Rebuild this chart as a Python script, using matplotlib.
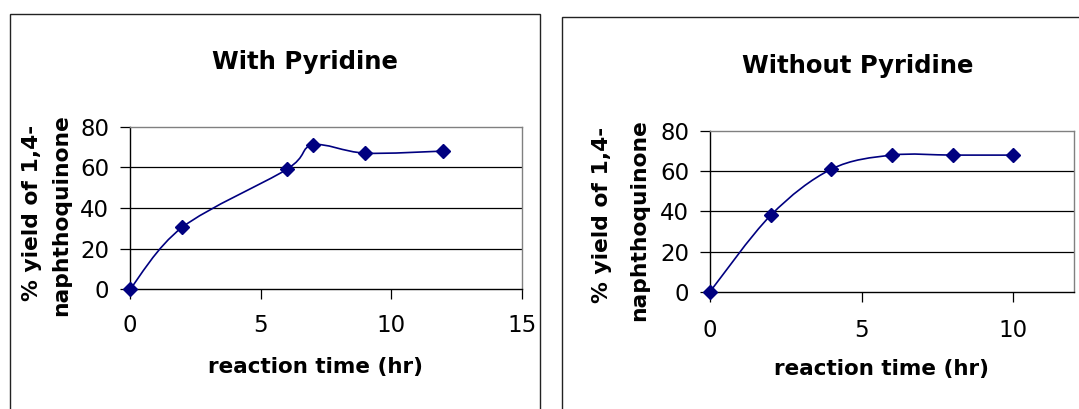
import matplotlib
matplotlib.use("Agg")
import matplotlib.pyplot as plt
from matplotlib.path import Path
from matplotlib.patches import PathPatch, Rectangle

# data
t_with = [0, 2, 6, 7, 9, 12]
y_with = [0, 30.5, 59, 71, 67, 68]
t_without = [0, 2, 4, 6, 8, 10]
y_without = [0, 38, 61, 68, 68, 68]
yticks = [0, 20, 40, 60, 80]

W, H = 1079, 409
NAVY = "#000080"


def px(x, y):
    # pixel position -> figure fraction
    return x / W, 1 - y / H


def smooth_path(xs, ys):
    # excel style smoothed line: catmull-rom as cubic beziers
    pts = list(zip(xs, ys))
    n = len(pts)
    verts = [pts[0]]
    codes = [Path.MOVETO]
    for i in range(n - 1):
        p0 = pts[i - 1] if i > 0 else pts[i]
        p1 = pts[i]
        p2 = pts[i + 1]
        p3 = pts[i + 2] if i + 2 < n else pts[i + 1]
        c1 = (p1[0] + (p2[0] - p0[0]) / 6, p1[1] + (p2[1] - p0[1]) / 6)
        c2 = (p2[0] - (p3[0] - p1[0]) / 6, p2[1] - (p3[1] - p1[1]) / 6)
        verts += [c1, c2, p2]
        codes += [Path.CURVE4] * 3
    return Path(verts, codes)


def setup(ax, xs, ys, xmax, xticks, xpad):
    ax.set_xlim(0, xmax)
    ax.set_ylim(0, 80)
    ax.set_xticks(xticks)
    ax.set_yticks(yticks)
    for y in yticks[1:-1]:
        ax.axhline(y, color="black", lw=0.9, zorder=1)
    ax.spines["top"].set_color("#808080")
    ax.spines["right"].set_color("#808080")
    for s in ["left", "bottom"]:
        ax.spines[s].set_color("black")
    for s in ax.spines.values():
        s.set_linewidth(1.0)
    ax.tick_params(axis="both", direction="out", length=7, width=0.9,
                   labelsize=16.5, colors="black")
    ax.tick_params(axis="y", pad=8)
    ax.tick_params(axis="x", pad=xpad)
    ax.add_patch(PathPatch(smooth_path(xs, ys), fill=False, edgecolor=NAVY,
                           lw=1.2, zorder=3))
    ax.plot(xs, ys, ls="none", marker="D", ms=6.8, color=NAVY,
            zorder=4, clip_on=False)


fig = plt.figure(figsize=(W / 100, H / 100), dpi=100)
fig.patch.set_facecolor("white")

# chart area borders
fig.patches.append(Rectangle(px(9.5, 440), (540 - 9.5) / W, (440 - 13.5) / H,
                             transform=fig.transFigure, fill=False,
                             edgecolor="#222222", lw=1.0))
fig.patches.append(Rectangle(px(562, 440), (1100 - 562) / W, (440 - 16.5) / H,
                             transform=fig.transFigure, fill=False,
                             edgecolor="#222222", lw=1.0))

ax1 = fig.add_axes([130 / W, 1 - 289.3 / H, (521.7 - 130) / W, (289.3 - 126.7) / H])
setup(ax1, t_with, y_with, 15, [0, 5, 10, 15], 11)

ax2 = fig.add_axes([710 / W, 1 - 291.7 / H, (1074 - 710) / W, (291.7 - 131) / H])
setup(ax2, t_without, y_without, 12, [0, 5, 10], 13)

bold = dict(fontweight="bold", color="black")

fig.text(*px(305, 69.5), "With Pyridine", ha="center", va="baseline", fontsize=17.5, **bold)
fig.text(*px(858, 73.5), "Without Pyridine", ha="center", va="baseline", fontsize=17.5, **bold)

fig.text(*px(316, 373.5), "reaction time (hr)", ha="center", va="baseline", fontsize=15.5, **bold)
fig.text(*px(882, 375.5), "reaction time (hr)", ha="center", va="baseline", fontsize=15.5, **bold)

fig.text(*px(32.5, 212.5), "% yield of 1,4-", rotation=90, ha="center", va="center", fontsize=15.7, **bold)
fig.text(*px(61, 215), "naphthoquinone", rotation=90, ha="center", va="center", fontsize=15.7, **bold)
fig.text(*px(602.5, 215), "% yield of 1,4-", rotation=90, ha="center", va="center", fontsize=15.7, **bold)
fig.text(*px(639, 220), "naphthoquinone", rotation=90, ha="center", va="center", fontsize=15.7, **bold)

fig.savefig("out.png", dpi=100)
